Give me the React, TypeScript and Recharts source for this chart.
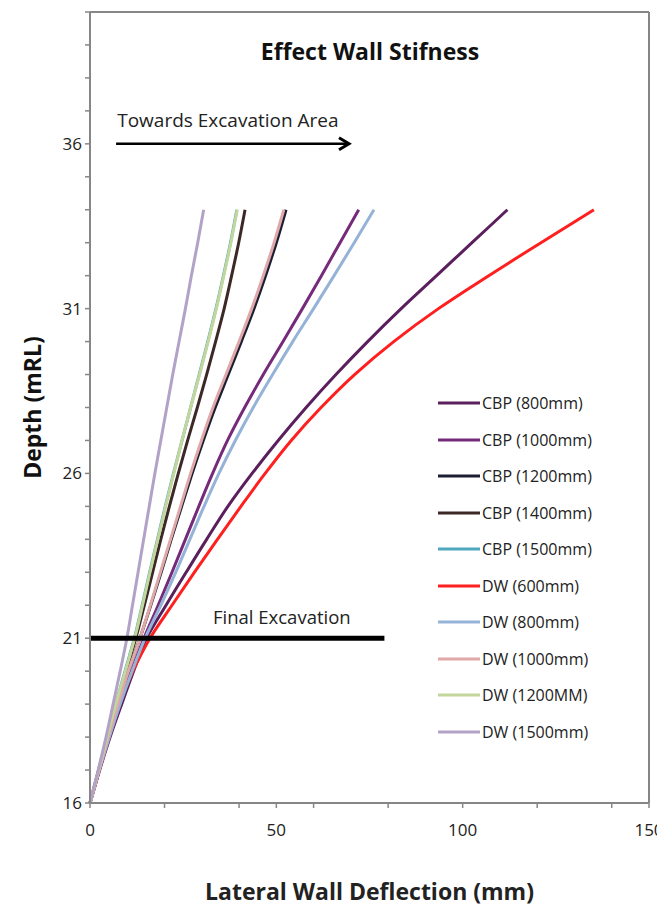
import React from 'react';
import { LineChart, Line, XAxis, YAxis, ReferenceLine, ReferenceDot, Legend, Label } from 'recharts';

const depth = [16, 17, 18, 19, 20, 21, 22, 23, 24, 25, 26, 27, 28, 29, 30, 31, 32, 33, 34];
const cbp800 = [0, 2.6, 5.4, 8.5, 11.7, 15.2, 20.4, 25.8, 31.3, 37.0, 43.5, 50.5, 58.0, 66.0, 74.5, 83.5, 93.0, 102.5, 112];
const cbp1000 = [0, 2.5, 5.1, 8.0, 11.1, 14.5, 18.3, 22.0, 25.6, 29.2, 32.9, 36.9, 41.5, 46.5, 51.8, 57.0, 62.1, 67.1, 72.1];
const cbp1200 = [0, 2.4, 4.9, 7.5, 10.3, 13.4, 16.3, 19.1, 21.8, 24.6, 27.4, 30.4, 33.6, 37.1, 40.6, 44.0, 47.1, 50.0, 52.6];
const cbp1400 = [0, 2.3, 4.7, 7.1, 9.7, 12.3, 14.6, 16.8, 19.0, 21.3, 23.7, 26.2, 28.8, 31.3, 33.7, 36.0, 38.0, 39.9, 41.6];
const cbp1500 = [0, 2.3, 4.6, 6.9, 9.4, 11.9, 14.0, 16.0, 18.1, 20.2, 22.4, 24.7, 27.0, 29.3, 31.6, 33.8, 35.8, 37.7, 39.4];
const dw600 = [0, 2.5, 5.0, 7.8, 11.5, 16.1, 22.0, 28.0, 34.2, 40.5, 47.0, 54.0, 62.0, 71.0, 81.5, 93.5, 107.0, 121.0, 135.2];
const dw800 = [0, 2.5, 5.2, 8.1, 11.3, 14.8, 19.0, 23.0, 26.8, 30.6, 34.6, 39.0, 43.8, 49.0, 54.4, 60.0, 65.5, 70.9, 76.2];
const dw1000 = [0, 2.4, 4.9, 7.5, 10.3, 13.4, 16.2, 18.9, 21.6, 24.3, 27.0, 29.9, 33.0, 36.5, 40.0, 43.4, 46.5, 49.4, 52.0];
const dw1200 = [0, 2.3, 4.6, 6.9, 9.5, 12.0, 14.1, 16.1, 18.2, 20.3, 22.5, 24.7, 27.0, 29.4, 31.7, 33.9, 35.9, 37.8, 39.5];
const dw1500 = [0, 2.2, 4.3, 6.2, 8.1, 9.9, 11.4, 12.9, 14.4, 15.9, 17.4, 19.0, 20.6, 22.2, 23.9, 25.6, 27.2, 28.9, 30.5];

const seriesNames = ['CBP (800mm)', 'CBP (1000mm)', 'CBP (1200mm)', 'CBP (1400mm)', 'CBP (1500mm)', 'DW (600mm)', 'DW (800mm)', 'DW (1000mm)', 'DW (1200MM)', 'DW (1500mm)'];
const seriesValues = [cbp800, cbp1000, cbp1200, cbp1400, cbp1500, dw600, dw800, dw1000, dw1200, dw1500];
const seriesColors = ['#5a1f5c', '#762a7a', '#1c1f33', '#3d2828', '#4fa8bd', '#ff1f1f', '#95b3d7', '#e0a8a8', '#c3d69b', '#b3a2c7'];

const xTickMarks = [0, 20, 40, 50, 60, 80, 100, 120, 140, 150];
const xTickLabels = [0, 50, 100, 150];
const yTickMarks = [16, 17, 18, 19, 20, 21, 22, 23, 24, 25, 26, 27, 28, 29, 30, 31, 32, 33, 34, 35, 36, 37, 38, 39, 40];
const yTickLabels = [16, 21, 26, 31, 36];

const finalExcavation = { depth: 21, from: 0, to: 79, textX: 33, textDepth: 21.64, text: 'Final Excavation' };
const towards = { depth: 36, from: 7, to: 69.5, textX: 7.3, textDepth: 36.72, text: 'Towards Excavation Area' };

const data = depth.map((d, i) => {
  const row: Record<string, number> = { depth: d };
  seriesValues.forEach((s, k) => { row['s' + k] = s[i]; });
  return row;
});

const FONT = '"Open Sans", sans-serif';
const AXIS = '#868686';

const XTick = (props: any) => {
  const { x, y, payload } = props;
  if (!xTickLabels.includes(payload.value)) return null;
  return <text x={x} y={y + 26} textAnchor="middle" fontFamily={FONT} fontSize={17} fill="#222">{payload.value}</text>;
};
const YTick = (props: any) => {
  const { x, y, payload } = props;
  if (!yTickLabels.includes(payload.value)) return null;
  return <text x={x - 1} y={y + 6} textAnchor="end" fontFamily={FONT} fontSize={17} fill="#222">{payload.value}</text>;
};

const ArrowShape = (p: any) => (
  <g>
    <line x1={p.x1} y1={p.y1} x2={p.x2} y2={p.y2} stroke="#000" strokeWidth={2.5} />
    <path d={`M${p.x2 - 10},${p.y2 - 6} L${p.x2},${p.y2} L${p.x2 - 10},${p.y2 + 6}`} stroke="#000" strokeWidth={3} fill="none" />
  </g>
);

const renderLegend = () => (
  <div style={{ fontFamily: FONT, fontSize: 16, color: '#222' }}>
    {seriesNames.map((n, i) => (
      <div key={n} style={{ display: 'flex', alignItems: 'center', height: 36.5 }}>
        <svg width={42} height={6} style={{ marginRight: 2 }}>
          <line x1={0} y1={3} x2={42} y2={3} stroke={seriesColors[i]} strokeWidth={3} />
        </svg>
        <span style={{ whiteSpace: 'nowrap' }}>{n}</span>
      </div>
    ))}
  </div>
);

export default function App() {
  return (
    <div style={{ position: 'relative', width: 650, height: 900 }}>
      <style>{`html,body{overflow:hidden}.recharts-surface{overflow:visible}.recharts-wrapper{overflow:visible}`}</style>
      <LineChart layout="vertical" width={650} height={900} data={data} margin={{ top: 4, right: 9, bottom: 5, left: 20 }}>
        <XAxis type="number" domain={[0, 150]} ticks={xTickMarks} interval={0} tick={<XTick />} tickLine={{ stroke: AXIS, strokeWidth: 1.5 }} axisLine={{ stroke: AXIS, strokeWidth: 2 }} tickSize={5} height={100}>
          <Label content={(p: any) => {
            const vb = p.viewBox;
            return <text x={vb.x + vb.width / 2} y={vb.y + 97} textAnchor="middle" fontFamily={FONT} fontWeight="bold" fontSize={23} fill="#222">Lateral Wall Deflection (mm)</text>;
          }} />
        </XAxis>
        <YAxis type="number" dataKey="depth" domain={[16, 40]} reversed ticks={yTickMarks} interval={0} tick={<YTick />} tickLine={{ stroke: AXIS, strokeWidth: 1.5 }} axisLine={{ stroke: AXIS, strokeWidth: 2 }} tickSize={5} width={62}>
          <Label content={(p: any) => {
            const vb = p.viewBox;
            const cx = vb.x + 4;
            const cy = vb.y + vb.height / 2;
            return <text x={cx} y={cy} transform={`rotate(-90 ${cx} ${cy})`} textAnchor="middle" dominantBaseline="central" fontFamily={FONT} fontWeight="bold" fontSize={23} fill="#111">Depth (mRL)</text>;
          }} />
        </YAxis>
        <ReferenceLine y={40} stroke={AXIS} strokeWidth={2} />
        <ReferenceLine x={150} stroke={AXIS} strokeWidth={2} />
        {seriesNames.map((n, i) => (
          <Line key={n} dataKey={'s' + i} name={n} type="monotone" stroke={seriesColors[i]} strokeWidth={3} dot={false} isAnimationActive={false} />
        ))}
        <ReferenceLine segment={[{ x: finalExcavation.from, y: finalExcavation.depth }, { x: finalExcavation.to, y: finalExcavation.depth }]} stroke="#000" strokeWidth={5} />
        <ReferenceLine segment={[{ x: towards.from, y: towards.depth }, { x: towards.to, y: towards.depth }]} shape={ArrowShape} />
        <ReferenceDot x={finalExcavation.textX} y={finalExcavation.textDepth} r={0} fill="none" stroke="none"
          label={{ value: finalExcavation.text, position: 'right', offset: 0, fill: '#222', fontSize: 18.5, fontFamily: FONT }} />
        <ReferenceDot x={towards.textX} y={towards.textDepth} r={0} fill="none" stroke="none"
          label={{ value: towards.text, position: 'right', offset: 0, fill: '#222', fontSize: 19, fontFamily: FONT }} />
        <Legend layout="vertical" align="center" verticalAlign="middle" wrapperStyle={{ left: 430, top: 377, width: 'auto' }} content={renderLegend} />
      </LineChart>
      <div style={{ position: 'absolute', left: 162, width: 400, top: 27, textAlign: 'center', fontFamily: FONT, fontWeight: 'bold', fontSize: 23, color: '#111' }}>Effect Wall Stifness</div>
    </div>
  );
}
